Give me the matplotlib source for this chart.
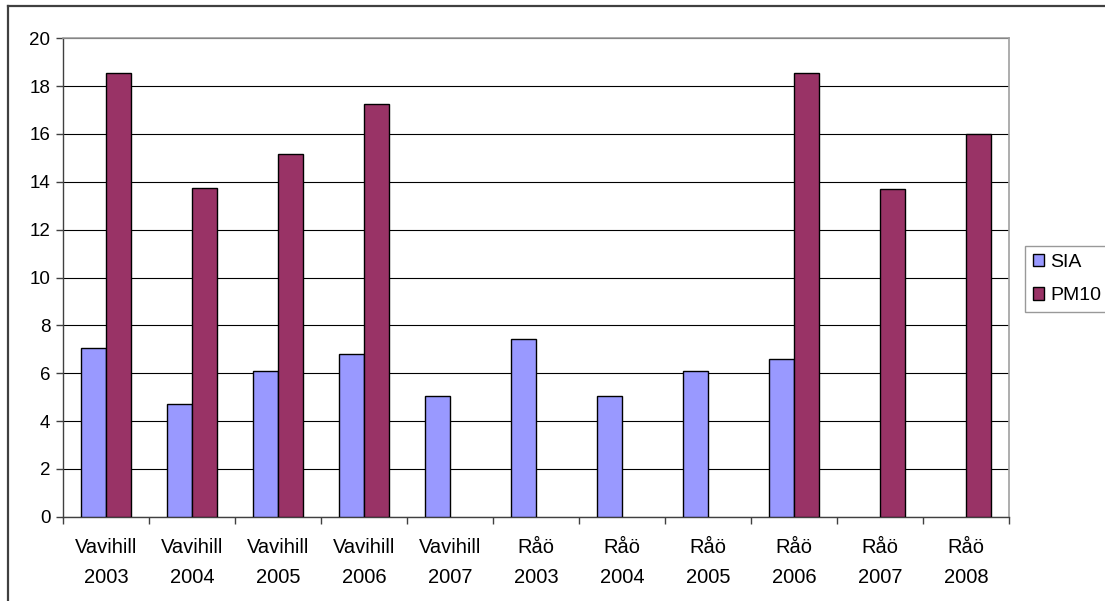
# SIA vs PM10 at Vavihill and Råö

import numpy as np
import matplotlib.pyplot as plt
from matplotlib.lines import Line2D

plt.rcParams['font.family'] = ['Liberation Sans', 'DejaVu Sans']

stations = ['Vavihill\n2003', 'Vavihill\n2004', 'Vavihill\n2005', 'Vavihill\n2006',
            'Vavihill\n2007', 'Råö\n2003', 'Råö\n2004', 'Råö\n2005', 'Råö\n2006',
            'Råö\n2007', 'Råö\n2008']
sia = [7.04, 4.72, 6.09, 6.79, 5.06, 7.43, 5.06, 6.09, 6.59, np.nan, np.nan]
pm10 = [18.56, 13.75, 15.16, 17.27, np.nan, np.nan, np.nan, np.nan, 18.56, 13.70, 16.01]
yticks = [0, 2, 4, 6, 8, 10, 12, 14, 16, 18, 20]

fig = plt.figure(figsize=(11.05, 6.01), dpi=100)
ax = fig.add_axes([63 / 1105, 84.3 / 601, 946 / 1105, 478.4 / 601])

x = np.arange(len(stations))
w = 0.285
ax.bar(x - w / 2, sia, w, color='#9999FF', edgecolor='black', linewidth=1, label='SIA', zorder=3)
ax.bar(x + w / 2, pm10, w, color='#993366', edgecolor='black', linewidth=1, label='PM10', zorder=3)

ax.set_xlim(-0.5, len(stations) - 0.5)
ax.set_ylim(0, 20)
ax.set_yticks(yticks)
ax.yaxis.grid(True, color='black', linewidth=0.8)
ax.set_axisbelow(True)

# category boundaries get the tick marks, labels sit in the middle
ax.set_xticks(np.arange(-0.5, len(stations), 1.0))
ax.set_xticklabels([])
ax.set_xticks(x, minor=True)
ax.set_xticklabels(stations, minor=True, fontsize=14.5, linespacing=1.75)
ax.tick_params(axis='x', which='minor', length=0, pad=15)
ax.tick_params(axis='x', which='major', length=5, width=1, color='#404040')
ax.tick_params(axis='y', length=5, width=1, color='#404040', labelsize=13.5, pad=4)

for s in ['left', 'bottom']:
    ax.spines[s].set_color('#404040')
    ax.spines[s].set_linewidth(1)
for s in ['top', 'right']:
    ax.spines[s].set_color('#A0A0A0')
    ax.spines[s].set_linewidth(1.2)

leg = fig.legend(loc='upper left', bbox_to_anchor=(1025 / 1105, 1 - 246 / 601),
                 fontsize=14, frameon=True, fancybox=False, edgecolor='#808080',
                 handlelength=0.6, handleheight=0.6, handletextpad=0.3,
                 borderpad=0.4, labelspacing=0.85, borderaxespad=0)
leg.get_frame().set_linewidth(1)

# outer chart frame
fig.add_artist(Line2D([8 / 1105, 1], [1 - 6 / 601, 1 - 6 / 601], color='#404040', linewidth=1.6))
fig.add_artist(Line2D([8 / 1105, 8 / 1105], [0, 1 - 6 / 601], color='#404040', linewidth=1.6))

fig.savefig('out.png', dpi=100)
